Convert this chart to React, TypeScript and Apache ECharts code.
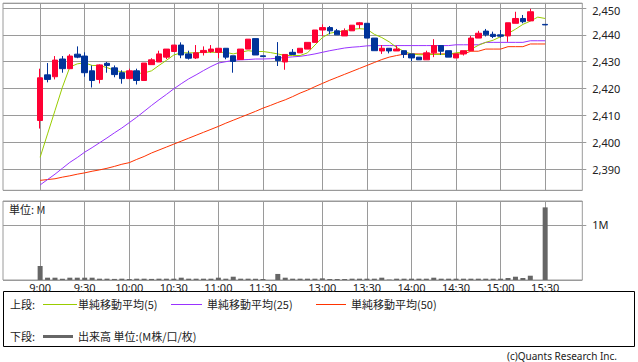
import React, { useEffect, useRef } from 'react';
import * as echarts from 'echarts';

// ---- data ----
const MORNING_START = [9, 0];
const MORNING_END = [11, 30];
const LUNCH_SLOT = '12:25';
const AFTERNOON_START = [12, 30];
const AFTERNOON_END = [15, 30];

const TICK_LABELS = ['9:00', '9:30', '10:00', '10:30', '11:00', '11:30', '13:00', '13:30', '14:00', '14:30', '15:00', '15:30'];

// [open, close, low, high]
const CANDLES: (number[] | null)[] = [
  [2408.1, 2424.0, 2405.1, 2427.4],
  [2425.1, 2423.4, 2422.3, 2429.5],
  [2424.4, 2430.6, 2423.4, 2432.1],
  [2431.0, 2427.4, 2425.9, 2432.1],
  [2427.4, 2432.1, 2427.4, 2432.8],
  [2432.8, 2431.7, 2431.3, 2435.7],
  [2432.1, 2425.9, 2424.4, 2433.5],
  [2426.6, 2423.0, 2420.4, 2428.6],
  [2423.4, 2428.8, 2421.9, 2429.0],
  [2429.4, 2428.6, 2425.9, 2429.9],
  [2427.7, 2425.2, 2424.2, 2428.6],
  [2425.9, 2423.7, 2421.8, 2426.8],
  [2423.7, 2426.6, 2423.7, 2427.4],
  [2426.6, 2423.0, 2421.5, 2427.4],
  [2423.0, 2429.5, 2423.0, 2429.5],
  [2428.9, 2430.7, 2428.9, 2431.3],
  [2429.9, 2432.9, 2429.9, 2434.1],
  [2431.7, 2434.7, 2431.0, 2434.7],
  [2433.8, 2436.2, 2433.8, 2436.2],
  [2436.2, 2432.5, 2431.3, 2437.2],
  [2432.9, 2431.3, 2430.8, 2434.1],
  [2431.4, 2433.3, 2431.0, 2436.2],
  [2433.4, 2434.2, 2432.3, 2435.7],
  [2433.8, 2434.7, 2433.3, 2436.2],
  [2433.5, 2435.0, 2431.3, 2435.0],
  [2435.0, 2431.7, 2430.9, 2435.0],
  [2432.2, 2430.1, 2425.9, 2432.2],
  [2430.8, 2434.7, 2430.8, 2434.7],
  [2434.7, 2438.4, 2434.7, 2438.4],
  [2438.6, 2432.5, 2432.5, 2438.6],
  [2432.2, 2431.9, 2431.9, 2432.2],
  null,
  [2432.0, 2430.4, 2428.4, 2437.3],
  [2429.9, 2432.7, 2427.0, 2432.7],
  [2433.5, 2432.7, 2432.7, 2434.7],
  [2433.3, 2435.0, 2433.3, 2435.0],
  [2434.7, 2437.2, 2434.7, 2437.2],
  [2437.2, 2441.8, 2437.2, 2441.8],
  [2441.8, 2442.7, 2439.6, 2443.9],
  [2442.7, 2441.5, 2440.2, 2443.3],
  [2441.5, 2440.0, 2440.0, 2442.2],
  [2439.6, 2441.5, 2439.6, 2442.4],
  [2441.5, 2443.6, 2441.5, 2443.6],
  [2443.8, 2444.5, 2442.3, 2444.8],
  [2444.3, 2438.8, 2438.8, 2444.3],
  [2438.8, 2434.1, 2434.1, 2438.8],
  [2434.0, 2435.0, 2432.9, 2436.2],
  [2435.0, 2434.0, 2433.1, 2435.0],
  [2434.0, 2434.7, 2434.0, 2436.0],
  [2434.1, 2432.7, 2431.4, 2434.1],
  [2432.9, 2431.4, 2430.2, 2432.9],
  [2431.7, 2430.7, 2430.7, 2431.7],
  [2430.7, 2433.3, 2430.7, 2434.1],
  [2433.3, 2436.0, 2431.7, 2438.4],
  [2436.0, 2433.9, 2432.5, 2436.0],
  [2434.1, 2431.7, 2431.7, 2434.1],
  [2431.4, 2432.9, 2431.4, 2432.9],
  [2432.9, 2434.1, 2432.3, 2434.1],
  [2434.1, 2438.8, 2434.1, 2439.6],
  [2438.8, 2440.6, 2438.8, 2441.5],
  [2441.4, 2440.0, 2439.4, 2442.2],
  [2440.2, 2439.4, 2438.8, 2441.2],
  [2440.0, 2439.5, 2438.9, 2441.8],
  [2439.6, 2444.5, 2437.4, 2444.5],
  [2444.3, 2446.1, 2444.3, 2448.6],
  [2446.1, 2444.9, 2444.3, 2447.4],
  [2445.2, 2448.6, 2445.2, 2449.7],
  null,
  [2443.9, 2443.7, 2443.7, 2443.9],
];

const MA5 = [
  2394.4, 2403.1, 2411.8, 2420.5, 2428.0, 2429.2, 2429.6, 2428.6, 2428.6, 2427.8,
  2426.8, 2426.2, 2426.2, 2425.6, 2425.8, 2426.6, 2428.6, 2430.5, 2432.5, 2433.3,
  2433.3, 2433.3, 2433.5, 2433.5, 2433.5, 2433.5, 2432.9, 2433.5, 2434.1, 2433.8,
  2433.8, 2433.4, 2432.9, 2432.3, 2432.3, 2432.3, 2433.3, 2436.2, 2439.0, 2440.6,
  2441.1, 2441.5, 2442.1, 2442.3, 2442.1, 2440.2, 2439.0, 2437.4, 2435.3, 2433.8,
  2432.9, 2432.6, 2432.6, 2432.7, 2432.7, 2432.8, 2433.3, 2433.6, 2434.6, 2436.1,
  2437.2, 2438.0, 2439.3, 2440.5, 2442.1, 2443.9, 2445.1, 2446.6, 2446.1,
];

const MA25 = [
  2384.1, 2386.1, 2388.1, 2390.3, 2392.5, 2394.3, 2396.3, 2398.0, 2399.8, 2401.6,
  2403.5, 2405.3, 2407.3, 2409.3, 2411.5, 2413.7, 2415.8, 2417.8, 2419.9, 2421.8,
  2423.6, 2425.1, 2426.7, 2428.2, 2429.5, 2430.0, 2430.5, 2430.7, 2430.8, 2431.0,
  2431.0, 2431.1, 2431.3, 2431.6, 2431.8, 2432.0, 2432.4, 2432.9, 2433.5, 2434.1,
  2434.6, 2435.1, 2435.4, 2435.6, 2435.9, 2436.0, 2436.0, 2436.0, 2436.0, 2436.0,
  2436.0, 2436.0, 2436.0, 2436.0, 2436.0, 2436.0, 2436.3, 2436.3, 2436.3, 2436.3,
  2437.2, 2437.2, 2437.2, 2437.2, 2437.2, 2437.2, 2437.8, 2437.8, 2437.8,
];

const MA50 = [
  2385.8, 2386.1, 2386.4, 2387.0, 2387.5, 2388.1, 2388.6, 2389.2, 2389.7, 2390.3,
  2391.0, 2391.8, 2392.4, 2393.6, 2394.7, 2396.0, 2397.1, 2398.2, 2399.3, 2400.4,
  2401.5, 2402.6, 2403.7, 2404.8, 2405.9, 2407.1, 2408.2, 2409.3, 2410.4, 2411.5,
  2412.7, 2413.7, 2414.8, 2415.8, 2417.0, 2418.3, 2419.4, 2420.7, 2421.9, 2423.1,
  2424.2, 2425.3, 2426.4, 2427.5, 2428.6, 2429.7, 2430.8, 2431.7, 2432.3, 2432.8,
  2432.9, 2432.9, 2432.9, 2432.9, 2432.9, 2432.9, 2432.9, 2432.9, 2433.9, 2433.9,
  2434.7, 2434.7, 2434.7, 2435.6, 2435.6, 2435.6, 2436.6, 2436.6, 2436.6,
];

// volume in millions
const VOLUME: (number | null)[] = [
  0.255, 0.042, 0.042, 0.024, 0.042, 0.042, 0.042, 0.042, 0.024, 0.024,
  0.02, 0.024, 0.02, 0.024, 0.024, 0.02, 0.024, 0.024, 0.024, 0.042,
  0.024, 0.024, 0.024, 0.024, 0.042, 0.024, 0.06, 0.024, 0.024, 0.024,
  0.018, null, 0.11, 0.042, 0.024, 0.024, 0.024, 0.024, 0.03, 0.018,
  0.018, 0.018, 0.024, 0.024, 0.024, 0.024, 0.042, 0.008, 0.024, 0.024,
  0.024, 0.024, 0.024, 0.042, 0.024, 0.024, 0.024, 0.024, 0.024, 0.024,
  0.024, 0.024, 0.024, 0.036, 0.06, 0.036, 0.078, null, 1.32,
];

// ---- categories ----
function session(start: number[], end: number[]): string[] {
  const out: string[] = [];
  let m = start[0] * 60 + start[1];
  const e = end[0] * 60 + end[1];
  while (m <= e) {
    out.push(`${Math.floor(m / 60)}:${String(m % 60).padStart(2, '0')}`);
    m += 5;
  }
  return out;
}
const TIMES = [...session(MORNING_START, MORNING_END), LUNCH_SLOT, ...session(AFTERNOON_START, AFTERNOON_END)];
const PAD = 5;
const CATS = [
  ...Array.from({ length: PAD }, (_, i) => `pre${i}`),
  ...TIMES,
  ...Array.from({ length: PAD }, (_, i) => `post${i}`),
];
const padArr = (arr: any[]) => [...Array(PAD).fill('-'), ...arr, ...Array(PAD).fill('-')];

const FONT = '"Noto Sans", "Noto Sans CJK JP", sans-serif';
const JP = '"Noto Sans CJK JP", sans-serif';
const GRID_COLOR = '#9a9a9a';
const isTick = (idx: number) => TICK_LABELS.includes(CATS[idx]);

const UP = '#ff0033';
const DOWN = '#003399';

function buildOption(): any {
  const xCommon = {
    type: 'category',
    data: CATS,
    boundaryGap: false,
    axisLine: { show: false },
    axisTick: { show: false },
    splitLine: { show: true, interval: (i: number) => isTick(i), lineStyle: { color: GRID_COLOR, width: 1 } },
  };
  const textLine = (text: string, x: number, y: number, family = JP, size = 11, align = 'left') => ({
    type: 'text',
    x,
    y,
    style: { text, fontSize: size, fontFamily: family, fill: '#222', align, verticalAlign: 'middle' },
  });
  const legendLine = (x1: number, x2: number, y: number, color: string, w = 1) => ({
    type: 'line',
    shape: { x1, y1: y, x2, y2: y },
    style: { stroke: color, lineWidth: w },
  });
  return {
    animation: false,
    backgroundColor: '#fff',
    grid: [
      { left: 3, right: 55.7, top: 0.5, height: 189.8, show: true, borderColor: GRID_COLOR, borderWidth: 1 },
      { left: 3, right: 55.7, top: 201, height: 79, show: true, borderColor: GRID_COLOR, borderWidth: 1 },
    ],
    xAxis: [
      { ...xCommon, gridIndex: 0, axisLabel: { show: false } },
      {
        ...xCommon,
        gridIndex: 1,
        axisLabel: {
          show: true,
          interval: (i: number) => isTick(i),
          fontSize: 11,
          fontFamily: FONT,
          color: '#222',
          margin: 2,
        },
      },
    ],
    yAxis: [
      {
        type: 'value',
        gridIndex: 0,
        position: 'right',
        min: 2382.1,
        max: 2451.8,
        splitNumber: 7,
        axisLine: { show: false },
        axisTick: { show: true, length: 4, lineStyle: { color: GRID_COLOR } },
        splitLine: { show: true, lineStyle: { color: GRID_COLOR, width: 1 } },
        axisLabel: {
          showMinLabel: false,
          showMaxLabel: false,
          margin: 10,
          fontSize: 11,
          lineHeight: 11,
          fontFamily: FONT,
          color: '#222',
          formatter: (v: number) => {
            const s = Math.round(v).toLocaleString('en-US');
            return v >= 2449.5 ? `{edge|${s}}` : s;
          },
          rich: {
            edge: { fontSize: 11, lineHeight: 11, fontFamily: FONT, color: '#222', padding: [5, 0, 0, 0] },
          },
        },
      },
      {
        type: 'value',
        gridIndex: 1,
        position: 'right',
        min: 0,
        max: 1.436,
        interval: 1,
        axisLine: { show: false },
        axisTick: { show: true, length: 4, lineStyle: { color: GRID_COLOR } },
        splitLine: { show: true, lineStyle: { color: GRID_COLOR, width: 1 } },
        axisLabel: {
          showMinLabel: false,
          showMaxLabel: false,
          margin: 10,
          fontSize: 11,
          fontFamily: FONT,
          color: '#222',
          formatter: (v: number) => (v === 1 ? '1M' : ''),
        },
      },
    ],
    series: [
      {
        type: 'line',
        name: 'MA50',
        xAxisIndex: 0,
        yAxisIndex: 0,
        data: padArr(MA50),
        symbol: 'none',
        lineStyle: { color: '#ff3300', width: 1 },
        z: 2,
      },
      {
        type: 'line',
        name: 'MA25',
        xAxisIndex: 0,
        yAxisIndex: 0,
        data: padArr(MA25),
        symbol: 'none',
        lineStyle: { color: '#9933ff', width: 1 },
        z: 2,
      },
      {
        type: 'line',
        name: 'MA5',
        xAxisIndex: 0,
        yAxisIndex: 0,
        data: padArr(MA5),
        symbol: 'none',
        lineStyle: { color: '#99cc00', width: 1 },
        z: 2,
      },
      {
        type: 'candlestick',
        xAxisIndex: 0,
        yAxisIndex: 0,
        barWidth: 6,
        data: padArr(CANDLES.map((c) => (c ? c : ['-', '-', '-', '-']))),
        itemStyle: { color: UP, color0: DOWN, borderColor: UP, borderColor0: DOWN, borderWidth: 1 },
        z: 3,
      },
      {
        type: 'bar',
        xAxisIndex: 1,
        yAxisIndex: 1,
        barWidth: 5,
        data: padArr(VOLUME.map((v) => (v == null ? '-' : v))),
        itemStyle: { color: '#666666' },
      },
    ],
    graphic: [
      textLine('単位: M', 9, 209),
      {
        type: 'rect',
        shape: { x: 3.5, y: 291.5, width: 631, height: 55 },
        style: { fill: 'none', stroke: '#000', lineWidth: 1 },
      },
      textLine('上段:', 10, 304),
      legendLine(43, 77, 304.5, '#99cc00'),
      textLine('単純移動平均(5)', 78, 304),
      legendLine(171, 202, 304.5, '#9933ff'),
      textLine('単純移動平均(25)', 207, 304),
      legendLine(316, 346, 304.5, '#ff3300'),
      textLine('単純移動平均(50)', 351, 304),
      textLine('下段:', 10, 336),
      legendLine(43, 73, 336.5, '#666666', 3),
      textLine('出来高 単位:(M株/口/枚)', 78, 336),
      textLine('(c)Quants Research Inc.', 617, 356, FONT, 10, 'right'),
    ],
  };
}

export default function App() {
  const ref = useRef<HTMLDivElement>(null);
  useEffect(() => {
    document.body.style.margin = '0';
    const chart = echarts.init(ref.current as HTMLDivElement, undefined, { renderer: 'svg' });
    chart.setOption(buildOption());
    return () => chart.dispose();
  }, []);
  return <div ref={ref} style={{ width: 638, height: 362, position: 'absolute', left: 0, top: 0 }} />;
}
